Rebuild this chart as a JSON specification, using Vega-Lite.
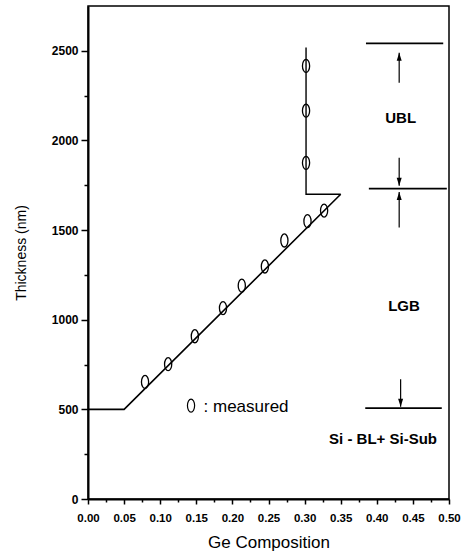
{
  "$schema": "https://vega.github.io/schema/vega-lite/v6.json",
  "width": 361,
  "height": 493,
  "autosize": {"type": "none"},
  "padding": {"left": 88, "top": 6, "right": 17, "bottom": 59},
  "background": "white",
  "config": {
    "view": {"stroke": "black", "strokeWidth": 1.5},
    "axis": {
      "domainColor": "black", "domainWidth": 2, "tickColor": "black", "tickWidth": 1.5,
      "labelColor": "black", "labelFont": "Liberation Sans", "labelFontWeight": "bold",
      "titleColor": "black", "titleFont": "Liberation Sans", "titleFontWeight": "normal", "grid": false
    }
  },
  "datasets": {
    "curve": [
      {"x": 0.0, "y": 500, "o": 1},
      {"x": 0.05, "y": 500, "o": 2},
      {"x": 0.35, "y": 1700, "o": 3}
    ],
    "step": [
      {"x": 0.302, "y": 2518, "o": 1},
      {"x": 0.302, "y": 1700, "o": 2},
      {"x": 0.35, "y": 1700, "o": 3}
    ],
    "measured": [
      {"x": 0.079, "y": 653},
      {"x": 0.111, "y": 752},
      {"x": 0.148, "y": 908},
      {"x": 0.187, "y": 1065},
      {"x": 0.213, "y": 1190},
      {"x": 0.245, "y": 1297},
      {"x": 0.272, "y": 1442},
      {"x": 0.304, "y": 1550},
      {"x": 0.327, "y": 1609},
      {"x": 0.302, "y": 1875},
      {"x": 0.302, "y": 2166},
      {"x": 0.302, "y": 2416}
    ],
    "bounds": [
      {"x": 0.385, "x2": 0.492, "y": 2541},
      {"x": 0.389, "x2": 0.497, "y": 1731},
      {"x": 0.384, "x2": 0.490, "y": 507}
    ],
    "arrows": [
      {"x": 0.431, "y": 2322, "y2": 2489, "dir": "up"},
      {"x": 0.431, "y": 1904, "y2": 1748, "dir": "down"},
      {"x": 0.431, "y": 1515, "y2": 1712, "dir": "up"},
      {"x": 0.433, "y": 668, "y2": 515, "dir": "down"}
    ],
    "labels": [
      {"x": 0.433, "y": 2127, "text": "UBL"},
      {"x": 0.4377, "y": 1075, "text": "LGB"},
      {"x": 0.4086, "y": 334, "text": "Si - BL+ Si-Sub"}
    ],
    "legendSym": [{"x": 0.1427, "y": 521}],
    "legendText": [{"x": 0.16, "y": 484, "text": ": measured"}]
  },
  "resolve": {"axis": {"x": "independent", "y": "independent"}},
  "layer": [
    {
      "data": {"name": "curve"},
      "mark": {"type": "line", "color": "black", "strokeWidth": 1.6},
      "encoding": {
        "x": {"field": "x", "type": "quantitative", "scale": {"domain": [0, 0.5], "nice": false},
          "axis": {"orient": "bottom", "values": [0, 0.05, 0.1, 0.15, 0.2, 0.25, 0.3, 0.35, 0.4, 0.45, 0.5], "format": ".2f",
            "labelFontSize": 11.5, "tickSize": 5, "labelPadding": 8, "labelFlush": false,
            "title": "Ge Composition", "titleFontSize": 17, "titlePadding": 11}},
        "y": {"field": "y", "type": "quantitative", "scale": {"domain": [0, 2750], "nice": false},
          "axis": {"orient": "left", "values": [0, 500, 1000, 1500, 2000, 2500], "format": "d",
            "labelFontSize": 12, "tickSize": 7, "labelPadding": 3, "labelFlush": false,
            "title": "Thickness (nm)", "titleFontSize": 14, "titlePadding": 23}},
        "order": {"field": "o", "type": "quantitative"}
      }
    },
    {
      "data": {"name": "step"},
      "mark": {"type": "line", "color": "black", "strokeWidth": 1.4},
      "encoding": {
        "x": {"field": "x", "type": "quantitative",
          "axis": {"orient": "bottom", "values": [0.025, 0.075, 0.125, 0.175, 0.225, 0.275, 0.325, 0.375, 0.425, 0.475], "labels": false, "domain": false, "tickSize": 3, "title": null}},
        "y": {"field": "y", "type": "quantitative",
          "axis": {"orient": "left", "values": [250, 750, 1250, 1750, 2250], "labels": false, "domain": false, "tickSize": 4, "title": null}},
        "order": {"field": "o", "type": "quantitative"}
      }
    },
    {
      "data": {"name": "measured"},
      "mark": {"type": "point", "shape": "M0,-1 A0.55,1 0 1,0 0,1 A0.55,1 0 1,0 0,-1 Z", "size": 170, "filled": false, "stroke": "black", "strokeWidth": 1.3, "opacity": 1},
      "encoding": {
        "x": {"field": "x", "type": "quantitative", "axis": null},
        "y": {"field": "y", "type": "quantitative", "axis": null}
      }
    },
    {
      "data": {"name": "bounds"},
      "mark": {"type": "rule", "color": "black", "strokeWidth": 1.8},
      "encoding": {
        "x": {"field": "x", "type": "quantitative", "axis": null},
        "x2": {"field": "x2"},
        "y": {"field": "y", "type": "quantitative", "axis": null}
      }
    },
    {
      "data": {"name": "arrows"},
      "mark": {"type": "rule", "color": "black", "strokeWidth": 1.2},
      "encoding": {
        "x": {"field": "x", "type": "quantitative", "axis": null},
        "y": {"field": "y", "type": "quantitative", "axis": null},
        "y2": {"field": "y2"}
      }
    },
    {
      "data": {"name": "arrows"},
      "transform": [{"filter": "datum.dir == 'up'"}],
      "mark": {"type": "point", "shape": "M0,0 L-0.5,1.6 L0.5,1.6 Z", "size": 100, "filled": true, "color": "black", "opacity": 1},
      "encoding": {
        "x": {"field": "x", "type": "quantitative", "axis": null},
        "y": {"field": "y2", "type": "quantitative", "axis": null}
      }
    },
    {
      "data": {"name": "arrows"},
      "transform": [{"filter": "datum.dir == 'down'"}],
      "mark": {"type": "point", "shape": "M0,0 L-0.5,-1.6 L0.5,-1.6 Z", "size": 100, "filled": true, "color": "black", "opacity": 1},
      "encoding": {
        "x": {"field": "x", "type": "quantitative", "axis": null},
        "y": {"field": "y2", "type": "quantitative", "axis": null}
      }
    },
    {
      "data": {"name": "labels"},
      "mark": {"type": "text", "font": "Liberation Sans", "fontWeight": "bold", "fontSize": 15, "color": "black", "align": "center", "baseline": "middle"},
      "encoding": {
        "x": {"field": "x", "type": "quantitative", "axis": null},
        "y": {"field": "y", "type": "quantitative", "axis": null},
        "text": {"field": "text"}
      }
    },
    {
      "data": {"name": "legendSym"},
      "mark": {"type": "point", "shape": "M0,-1 A0.55,1 0 1,0 0,1 A0.55,1 0 1,0 0,-1 Z", "size": 170, "filled": false, "stroke": "black", "strokeWidth": 1.2, "opacity": 1},
      "encoding": {
        "x": {"field": "x", "type": "quantitative", "axis": null},
        "y": {"field": "y", "type": "quantitative", "axis": null}
      }
    },
    {
      "data": {"name": "legendText"},
      "mark": {"type": "text", "font": "Liberation Sans", "fontSize": 17, "color": "black", "align": "left", "baseline": "alphabetic"},
      "encoding": {
        "x": {"field": "x", "type": "quantitative", "axis": null},
        "y": {"field": "y", "type": "quantitative", "axis": null},
        "text": {"field": "text"}
      }
    }
  ]
}
